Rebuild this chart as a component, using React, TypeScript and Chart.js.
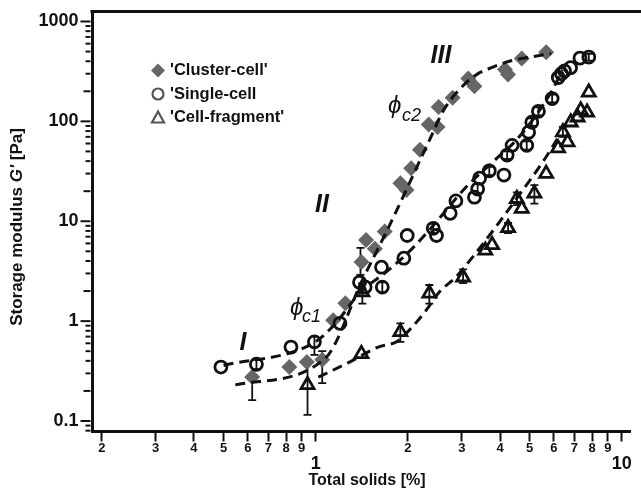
import { useEffect, useRef } from 'react';
import { Chart, registerables } from 'chart.js';
Chart.register(...registerables);

const FONT = "'Liberation Sans', Arial, Helvetica, sans-serif";

// ---- data ----
const CLUSTER_X = [0.62, 0.82, 0.935, 1.05, 1.14, 1.25, 1.41, 1.46, 1.56, 1.68, 1.89, 1.98, 2.05, 2.19, 2.34, 2.5, 2.52, 2.8, 3.15, 3.3, 4.15, 4.25, 4.71, 5.66];
const CLUSTER_Y = [0.275, 0.347, 0.389, 0.41, 1.02, 1.51, 3.9, 6.5, 5.3, 7.9, 24, 20.5, 34, 52, 93, 88, 139, 172, 268, 225, 330, 295, 425, 492];

const SINGLE_X = [0.49, 0.64, 0.83, 0.99, 1.2, 1.39, 1.45, 1.65, 1.64, 1.94, 1.99, 2.42, 2.48, 2.75, 2.87, 3.3, 3.38, 3.43, 3.69, 4.12, 4.22, 4.38, 4.89, 4.96, 5.08, 5.34, 5.92, 6.2, 6.35, 6.5, 6.8, 7.3, 7.8];
const SINGLE_Y = [0.347, 0.37, 0.55, 0.62, 0.95, 2.45, 2.2, 2.19, 3.47, 4.27, 7.2, 8.5, 7.2, 12, 16, 17.4, 21, 27, 32, 29, 46, 57.5, 57.5, 78, 98, 126, 169, 275, 300, 320, 345, 430, 440];

const FRAGMENT_X = [0.94, 1.41, 1.42, 1.89, 2.35, 3.03, 3.58, 3.77, 4.25, 4.54, 4.71, 5.18, 5.66, 6.19, 6.42, 6.65, 6.81, 7.17, 7.34, 7.7, 7.8];
const FRAGMENT_Y = [0.23, 0.47, 1.95, 0.78, 1.9, 2.75, 5.1, 5.8, 8.6, 16.8, 13.4, 19, 30, 54, 78, 62, 98, 110, 129, 123, 195];

// error bars: [x, low, high]
const CLUSTER_ERR = [[0.62, 0.162, 0.275], [1.05, 0.24, 0.5], [1.4, 2.9, 5.4]];
const SINGLE_ERR = [[0.64, 0.33, 0.41], [0.99, 0.46, 0.7], [1.65, 1.95, 2.45], [2.42, 7.6, 9.4], [3.38, 19, 23.5], [3.69, 29, 35], [4.22, 42, 50], [4.89, 52, 63], [5.08, 90, 107], [5.34, 115, 138], [5.92, 155, 185], [7.8, 405, 475]];
const FRAGMENT_ERR = [[0.94, 0.115, 0.38], [1.42, 1.5, 2.4], [1.89, 0.62, 0.95], [2.35, 1.5, 2.3], [3.03, 2.4, 3.3], [4.25, 7.6, 9.6], [4.54, 14.5, 19.5], [5.18, 15, 23], [6.42, 70, 88]];

// dashed fit curves
const FIT_CLUSTER_X = [0.546, 1.07, 1.43, 1.7, 1.92, 2.2, 2.39, 2.6, 2.87, 3.33, 3.77, 4.38, 4.96, 5.88];
const FIT_CLUSTER_Y = [0.23, 0.42, 2.7, 7.8, 17, 42, 72, 125, 191, 290, 347, 407, 437, 479];
const FIT_SINGLE_X = [0.5, 0.98, 1.15, 1.4, 1.72, 2.05, 2.4, 3.1, 3.85, 4.6, 5.9, 6.4];
const FIT_SINGLE_Y = [0.36, 0.6, 0.92, 1.95, 3.2, 5.2, 8.8, 22, 41, 69, 200, 330];
const FIT_FRAGMENT_X = [1.02, 1.27, 1.6, 1.85, 2.05, 2.28, 2.55, 2.85, 3.2, 3.9, 4.6, 5.6, 6.3];
const FIT_FRAGMENT_Y = [0.275, 0.38, 0.55, 0.63, 0.85, 1.25, 2.0, 2.7, 4.1, 9, 18, 42, 75];

// ticks
const X_TICKS = [0.2, 0.3, 0.4, 0.5, 0.6, 0.7, 0.8, 0.9, 1, 2, 3, 4, 5, 6, 7, 8, 9, 10];
const X_TICK_LABELS = ['2', '3', '4', '5', '6', '7', '8', '9', '1', '2', '3', '4', '5', '6', '7', '8', '9', '10'];
const Y_DECADES = [0.1, 1, 10, 100, 1000];
const Y_TICK_LABELS = ['0.1', '1', '10', '100', '1000'];

const LEGEND_LABELS = ["'Cluster-cell'", "'Single-cell", "'Cell-fragment'"];

const X_MIN = 0.1858, X_MAX = 10.69, Y_MIN = 0.0785, Y_MAX = 1259;

const pts = (xs: number[], ys: number[]) => xs.map((x, i) => ({ x, y: ys[i] }));

const INK = '#111111';
const GREY = '#666666';

const decorPlugin = {
  id: 'decor',
  beforeDatasetsDraw(chart: any) {
    const { ctx } = chart;
    const xs = chart.scales.x, ys = chart.scales.y;
    ctx.save();
    ctx.strokeStyle = INK;
    ctx.lineWidth = 1.8;
    const all = [...CLUSTER_ERR, ...SINGLE_ERR, ...FRAGMENT_ERR];
    for (const [x, lo, hi] of all) {
      const px = xs.getPixelForValue(x);
      const pl = ys.getPixelForValue(lo);
      const ph = ys.getPixelForValue(hi);
      ctx.beginPath();
      ctx.moveTo(px, pl); ctx.lineTo(px, ph);
      ctx.moveTo(px - 4, pl); ctx.lineTo(px + 4, pl);
      ctx.moveTo(px - 4, ph); ctx.lineTo(px + 4, ph);
      ctx.stroke();
    }
    ctx.restore();
  },
  afterDraw(chart: any) {
    const { ctx, chartArea } = chart;
    const ys = chart.scales.y;
    ctx.save();
    // top frame line
    ctx.strokeStyle = INK;
    ctx.lineWidth = 3;
    ctx.beginPath();
    ctx.moveTo(chartArea.left - 1.5, chartArea.top);
    ctx.lineTo(chart.width, chartArea.top);
    ctx.stroke();
    // y tick marks
    ctx.lineWidth = 2;
    for (const t of ys.ticks) {
      const v = t.value;
      const py = ys.getPixelForValue(v);
      const m = Math.round(v / Math.pow(10, Math.floor(Math.log10(v) + 1e-9)));
      const len = m === 1 ? 10 : m === 2 ? 7 : 5;
      ctx.beginPath();
      ctx.moveTo(chartArea.left - 1.5, py);
      ctx.lineTo(chartArea.left - 1.5 - len, py);
      ctx.stroke();
    }
    // legend
    const lx = 158;
    const rows = [70.5, 94, 117.5];
    ctx.fillStyle = GREY;
    ctx.beginPath();
    ctx.moveTo(lx, rows[0] - 7); ctx.lineTo(lx + 7, rows[0]); ctx.lineTo(lx, rows[0] + 7); ctx.lineTo(lx - 7, rows[0]);
    ctx.closePath(); ctx.fill();
    ctx.strokeStyle = '#555';
    ctx.lineWidth = 2.2;
    ctx.beginPath(); ctx.arc(lx, rows[1], 5.5, 0, Math.PI * 2); ctx.stroke();
    ctx.beginPath();
    ctx.moveTo(lx, rows[2] - 6); ctx.lineTo(lx + 6, rows[2] + 5); ctx.lineTo(lx - 6, rows[2] + 5); ctx.closePath(); ctx.stroke();
    ctx.fillStyle = INK;
    ctx.font = `bold 16.5px ${FONT}`;
    ctx.textBaseline = 'middle';
    ctx.textAlign = 'left';
    LEGEND_LABELS.forEach((s, i) => ctx.fillText(s, 170, rows[i]));
    // regime labels
    ctx.font = `italic bold 25px ${FONT}`;
    ctx.textAlign = 'center';
    ctx.textBaseline = 'alphabetic';
    ctx.fillText('I', 243, 350);
    ctx.fillText('II', 322, 212);
    ctx.fillText('III', 441, 63);
    // phi labels
    ctx.textAlign = 'left';
    ctx.font = `italic 24px ${FONT}`;
    ctx.fillText('\u03D5', 290, 315);
    ctx.fillText('\u03D5', 388, 113);
    ctx.font = `italic 18px ${FONT}`;
    ctx.fillText('c1', 302, 322);
    ctx.fillText('c2', 402, 121);
    // x title
    ctx.font = `bold 16px ${FONT}`;
    ctx.textAlign = 'center';
    ctx.fillText('Total solids [%]', 367, 485);
    // y title (mixed bold / bold italic)
    ctx.translate(22, 227);
    ctx.rotate(-Math.PI / 2);
    const parts: [string, string][] = [
      ['Storage modulus ', `bold 17px ${FONT}`],
      ["G'", `italic bold 17px ${FONT}`],
      [' [Pa]', `bold 17px ${FONT}`],
    ];
    let total = 0;
    for (const [s, f] of parts) { ctx.font = f; total += ctx.measureText(s).width; }
    let cx = -total / 2;
    ctx.textAlign = 'left';
    for (const [s, f] of parts) { ctx.font = f; ctx.fillText(s, cx, 0); cx += ctx.measureText(s).width; }
    ctx.restore();
  },
};

export default function App() {
  const ref = useRef<HTMLCanvasElement | null>(null);
  useEffect(() => {
    if (!ref.current) return;
    const fitStyle = {
      showLine: true,
      borderColor: INK,
      borderWidth: 3,
      borderDash: [10, 6],
      pointRadius: 0,
      fill: false,
      cubicInterpolationMode: 'monotone',
    };
    const chart = new Chart(ref.current, {
      type: 'scatter',
      data: {
        datasets: [
          { label: 'fit cluster', data: pts(FIT_CLUSTER_X, FIT_CLUSTER_Y), ...fitStyle } as any,
          { label: 'fit single', data: pts(FIT_SINGLE_X, FIT_SINGLE_Y), ...fitStyle } as any,
          { label: 'fit fragment', data: pts(FIT_FRAGMENT_X, FIT_FRAGMENT_Y), ...fitStyle } as any,
          {
            label: LEGEND_LABELS[1], data: pts(SINGLE_X, SINGLE_Y), pointStyle: 'circle', pointRadius: 6,
            borderColor: INK, borderWidth: 2.8, backgroundColor: 'rgba(0,0,0,0)',
          },
          {
            label: LEGEND_LABELS[2], data: pts(FRAGMENT_X, FRAGMENT_Y), pointStyle: 'triangle', pointRadius: 7.5,
            borderColor: INK, borderWidth: 2.8, backgroundColor: 'rgba(0,0,0,0)',
          },
          {
            label: LEGEND_LABELS[0], data: pts(CLUSTER_X, CLUSTER_Y), pointStyle: 'rectRot', pointRadius: 8,
            borderColor: GREY, borderWidth: 0, backgroundColor: GREY,
          },
        ],
      },
      options: {
        responsive: false,
        animation: false,
        devicePixelRatio: 1,
        layout: { padding: { top: 11.5, right: 0, bottom: 0, left: 0 } },
        plugins: { legend: { display: false }, tooltip: { enabled: false } },
        scales: {
          x: {
            type: 'logarithmic',
            position: 'bottom',
            min: X_MIN,
            max: X_MAX,
            afterBuildTicks: (scale: any) => { scale.ticks = X_TICKS.map((v) => ({ value: v })); },
            afterFit: (scale: any) => { scale.height = 61.5; scale.paddingLeft = 0; scale.paddingRight = 0; },
            grid: { display: true, drawOnChartArea: false, drawTicks: true, tickLength: 10, tickWidth: 2, tickColor: INK },
            border: { display: true, width: 3, color: INK },
            ticks: {
              autoSkip: false,
              maxRotation: 0,
              minRotation: 0,
              padding: -1,
              color: INK,
              callback: (_v: any, i: number) => {
                const v = X_TICKS[i];
                return v === 1 || v === 10 ? ['', X_TICK_LABELS[i]] : X_TICK_LABELS[i];
              },
              font: (c: any) => {
                const v = c.tick ? c.tick.value : 0;
                return v === 1 || v === 10
                  ? { family: FONT, size: 18, weight: 'bold', lineHeight: 0.86 }
                  : { family: FONT, size: 13, weight: 'bold', lineHeight: 1.2 };
              },
            },
          } as any,
          y: {
            type: 'logarithmic',
            position: 'left',
            min: Y_MIN,
            max: Y_MAX,
            afterBuildTicks: (scale: any) => {
              const t: { value: number }[] = [];
              for (let e = -2; e <= 3; e++) {
                for (let m = 1; m <= 9; m++) {
                  const v = Number((m * Math.pow(10, e)).toPrecision(6));
                  if (v >= Y_MIN && v <= Y_MAX) t.push({ value: v });
                }
              }
              scale.ticks = t;
            },
            afterFit: (scale: any) => { scale.width = 92; scale.paddingTop = 0; scale.paddingBottom = 0; },
            grid: { display: false, drawTicks: false },
            border: { display: true, width: 3, color: INK },
            ticks: {
              autoSkip: false,
              padding: 13.5,
              color: INK,
              font: { family: FONT, size: 18, weight: 'bold' },
              callback: (v: any) => {
                const idx = Y_DECADES.findIndex((d) => Math.abs(d - Number(v)) / d < 1e-6);
                return idx >= 0 ? Y_TICK_LABELS[idx] : '';
              },
            },
          } as any,
        },
      },
      plugins: [decorPlugin],
    } as any);
    return () => chart.destroy();
  }, []);
  return (
    <div style={{ position: 'absolute', left: 0, top: 0, width: 641, height: 493, background: '#fff' }}>
      <canvas ref={ref} width={641} height={493} style={{ display: 'block' }} />
    </div>
  );
}
